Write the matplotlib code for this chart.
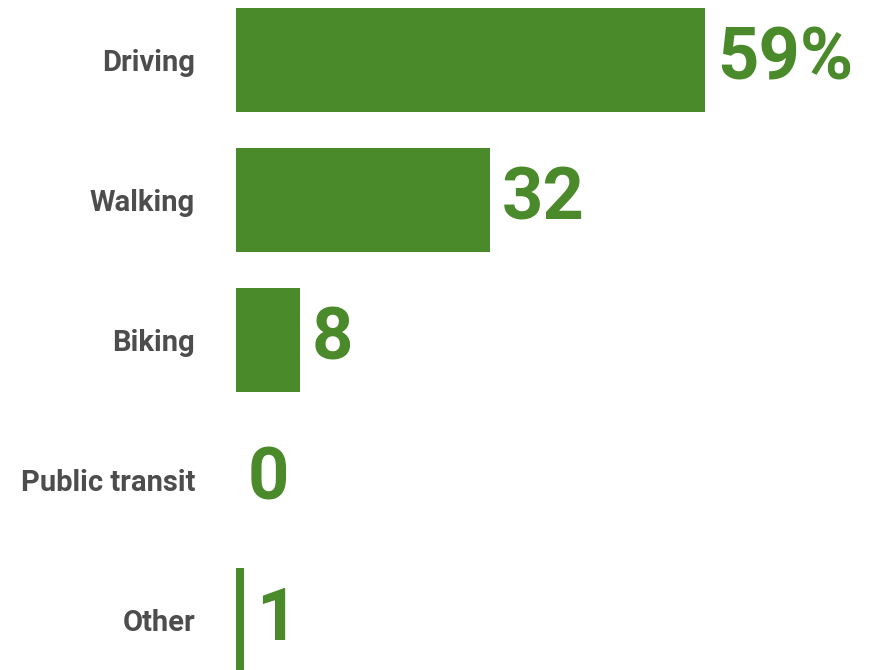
import matplotlib.pyplot as plt

# Share of trips by mode
modes = ["Driving", "Walking", "Biking", "Public transit", "Other"]
shares = [59, 32, 8, 0, 1]
value_labels = ["59%", "32", "8", "0", "1"]

GREEN = "#4a8a2b"
GREY = "#4d4d4d"

plt.rcParams['font.family'] = ['Roboto', 'DejaVu Sans']

fig = plt.figure(figsize=(8.71, 6.70), dpi=100)
ax = fig.add_axes([236 / 871, 0, 1 - 236 / 871, 1])

pos = list(range(len(modes)))
ax.barh(pos, shares, height=0.74, color=GREEN)

for p, v, lab in zip(pos, shares, value_labels):
    ax.annotate(lab, xy=(v, p), xytext=(8.5, 0), textcoords="offset points",
                ha="left", va="center", fontsize=52, fontweight="bold",
                color=GREEN)

ax.set_yticks(pos)
ax.set_yticklabels(modes, fontsize=21, fontweight="bold", color=GREY)
ax.tick_params(axis="y", length=0, pad=29.5)
ax.set_xticks([])
ax.set_xlim(0, 79.9)
ax.set_ylim(4.357, -0.4286)
for s in ax.spines.values():
    s.set_visible(False)

fig.savefig("out.png", dpi=100)
